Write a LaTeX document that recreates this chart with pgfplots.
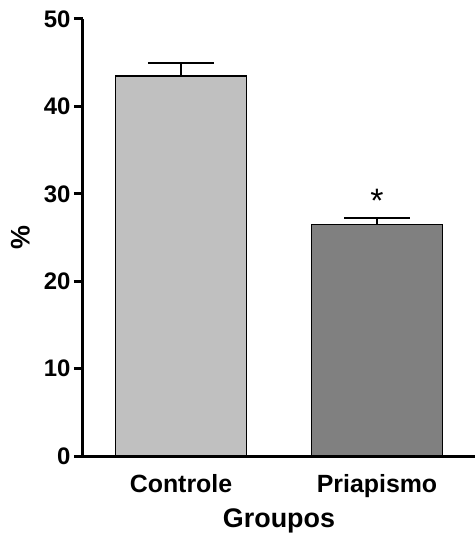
\documentclass[border=0pt]{standalone}
\usepackage{pgfplots}
\pgfplotsset{compat=1.18}
\usepackage{fontspec}
\setmainfont{Liberation Sans}
\definecolor{lightbar}{HTML}{C0C0C0}
\definecolor{darkbar}{HTML}{808080}
\begin{document}
\begin{tikzpicture}
\useasboundingbox (-83bp,-80bp) rectangle (392bp,456bp);
\begin{axis}[
  scale only axis,
  width=392bp, height=437bp,
  xmin=0.5, xmax=2.5,
  ymin=0, ymax=50,
  axis x line=bottom, axis y line=left,
  axis line style={line width=3bp, -},
  ytick={0,10,20,30,40,50},
  xtick={1,2}, xticklabels={Controle,Priapismo},
  x tick style={draw=none},
  y tick style={line width=3bp, black},
  tick align=outside,
  major tick length=9bp,
  /pgf/number format/assume math mode=true,
  tick label style={font=\fontsize{24}{28}\selectfont\bfseries},
  x tick label style={font=\fontsize{25}{28}\selectfont\bfseries, yshift=-6bp},
  ylabel={\%}, xlabel={Groupos},
  label style={font=\fontsize{27}{30}\selectfont\bfseries},
  ylabel style={at={(axis description cs:-0.16,0.5)}, anchor=center},
  xlabel style={yshift=-4bp},
  ybar, bar width=0.67, bar shift=0pt,
  clip=false,
]
\addplot[fill=lightbar, draw=black, line width=1.5bp,
  error bars/.cd, y dir=plus, y explicit, error mark=|,
  error bar style={line width=2bp, black},
  error mark options={line width=2bp, mark size=33bp, black}]
  coordinates {(1,43.5) +- (0,1.5)};
\addplot[fill=darkbar, draw=black, line width=1.5bp,
  error bars/.cd, y dir=plus, y explicit, error mark=|,
  error bar style={line width=2bp, black},
  error mark options={line width=2bp, mark size=33bp, black}]
  coordinates {(2,26.5) +- (0,0.7)};
\node[font=\fontsize{34}{38}\selectfont] at (axis cs:2,29.2) {*};
\end{axis}
\end{tikzpicture}
\end{document}
